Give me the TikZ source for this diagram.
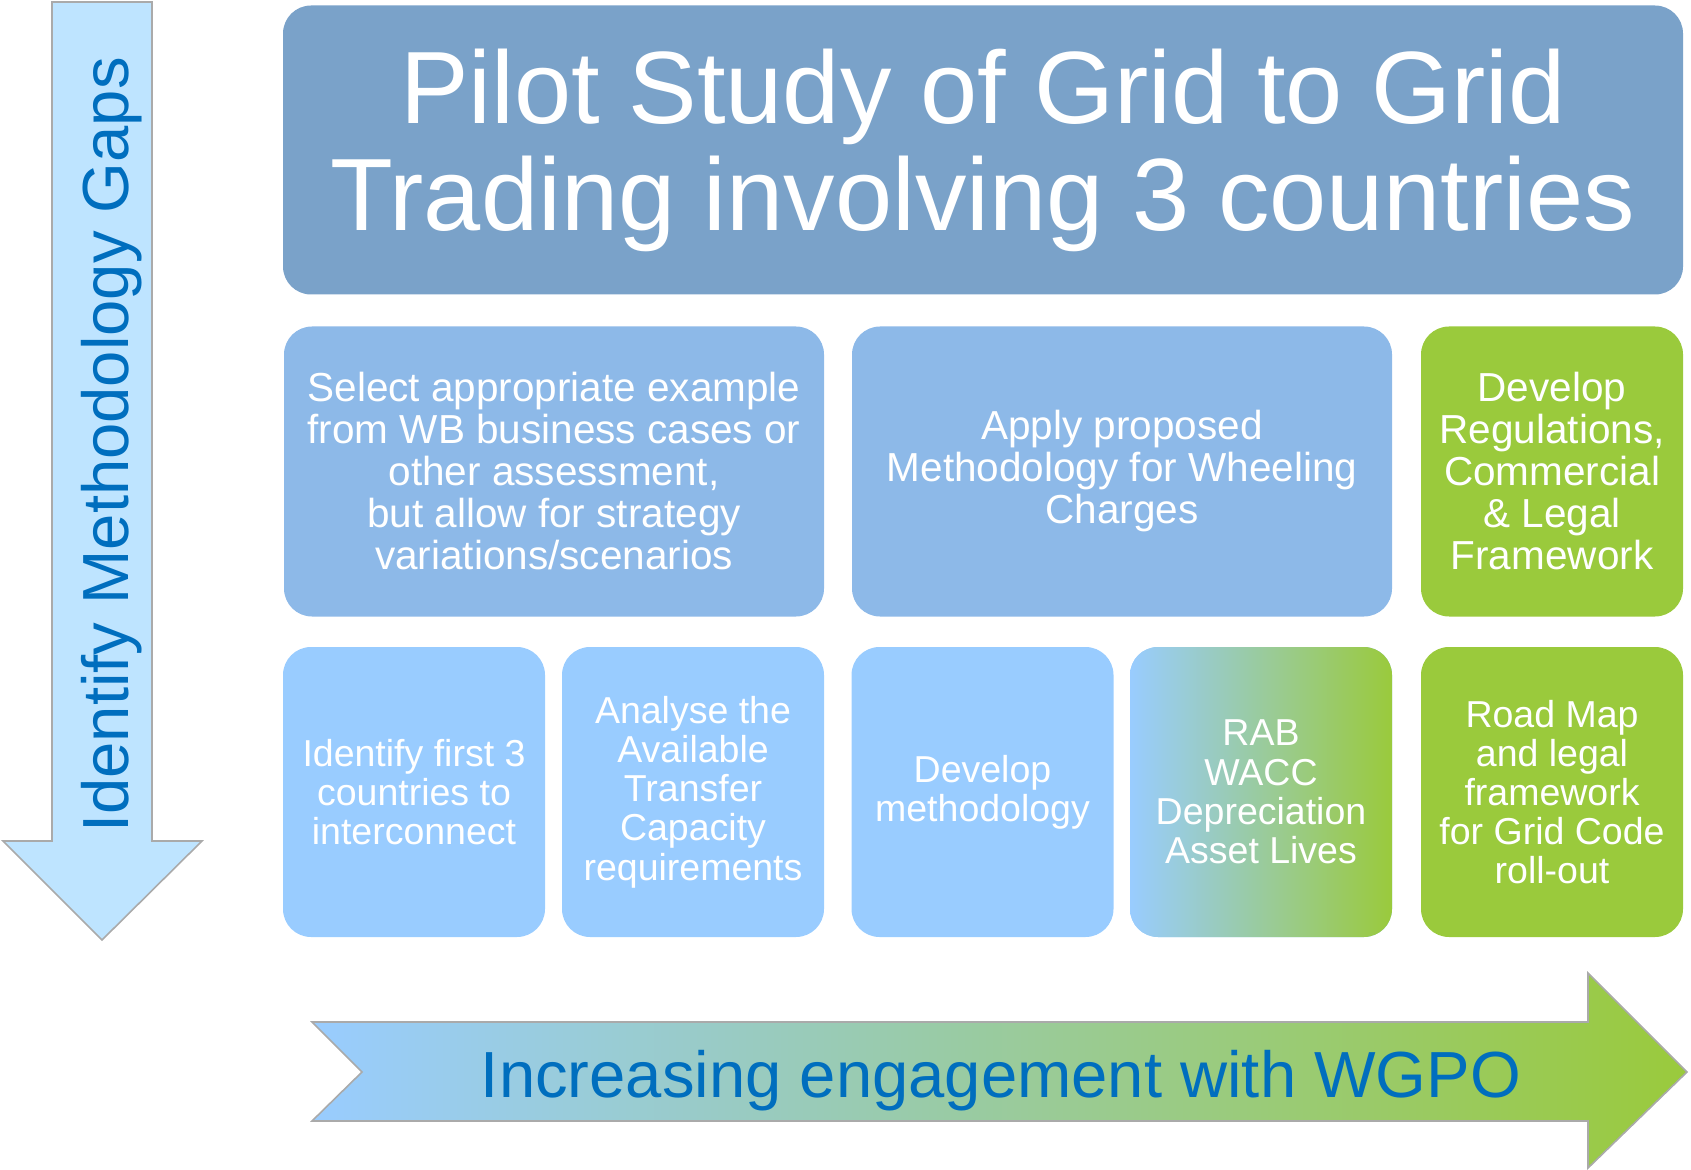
\documentclass[tikz,border=0pt]{standalone}
\usepackage{fontspec}
\setmainfont{Liberation Sans}
\definecolor{titleblue}{RGB}{122,162,201}
\definecolor{midblue}{RGB}{141,185,232}
\definecolor{paleblue}{RGB}{153,204,255}
\definecolor{leafgreen}{RGB}{154,202,60}
\definecolor{skyfill}{RGB}{190,228,255}
\definecolor{inkblue}{RGB}{0,110,190}
\definecolor{edgegray}{RGB}{170,170,170}

\begin{document}
\begin{tikzpicture}[x=0.5pt,y=-0.5pt]
    \tikzstyle{card} = [rounded corners=14pt,text=white,align=center,inner sep=0pt]
    \tikzstyle{headline} = [card,fill=titleblue,minimum width=700pt,minimum height=144.5pt,font=\fontsize{51.4}{53.5}\selectfont]
    \tikzstyle{wide} = [card,fill=midblue,minimum width=270pt,minimum height=145pt,font=\fontsize{20.25}{21}\selectfont]
    \tikzstyle{narrow} = [card,fill=paleblue,minimum width=131pt,minimum height=145pt,font=\fontsize{18.75}{19.6}\selectfont]
    \tikzstyle{legal} = [narrow,fill=leafgreen]
    \tikzstyle{blend} = [narrow,left color=paleblue,right color=leafgreen]
    \tikzstyle{banner} = [text=inkblue,font=\fontsize{32.6}{36}\selectfont,inner sep=0pt]
    \useasboundingbox (0,0) rectangle (1691,1170);
      \filldraw[fill=skyfill,draw=edgegray,line width=0.8pt] (52,2) -- (152,2) -- (152,841) -- (202,841) -- (102,940) -- (3,841) -- (52,841) -- cycle;
      \node[banner,rotate=90,anchor=base] (gaps) at (128,445) {Identify Methodology Gaps};
      \node[headline] (pilot) at (983,150) {Pilot Study of Grid to Grid\\Trading involving 3 countries};
      \node[wide] (example) at (554,471.5) {Select appropriate example\\from WB business cases or\\other assessment,\\but allow for strategy\\variations/scenarios};
      \node[wide] (wheeling) at (1122,471.5) {Apply proposed\\Methodology for Wheeling\\Charges};
      \node[legal,font=\fontsize{20.25}{21}\selectfont] (framework) at (1552,471.5) {Develop\\Regulations,\\Commercial\\\& Legal\\Framework};
      \node[narrow] (countries) at (414,792) {Identify first 3\\countries to\\interconnect};
      \node[narrow] (capacity) at (693,792) {Analyse the\\Available\\Transfer\\Capacity\\requirements};
      \node[narrow] (method) at (982.5,792) {Develop\\methodology};
      \node[blend] (rab) at (1261,792) {RAB\\WACC\\Depreciation\\Asset Lives};
      \node[legal] (roadmap) at (1552,792) {Road Map\\and legal\\framework\\for Grid Code\\roll-out};
      \shadedraw[left color=paleblue,right color=leafgreen,draw=edgegray,line width=0.8pt] (312,1022) -- (1588,1022) -- (1588,973) -- (1687,1072) -- (1588,1168) -- (1588,1121) -- (312,1121) -- (362,1072) -- cycle;
      \node[banner,anchor=base] (engage) at (1001,1097) {Increasing engagement with WGPO};
  \end{tikzpicture}
\end{document}
